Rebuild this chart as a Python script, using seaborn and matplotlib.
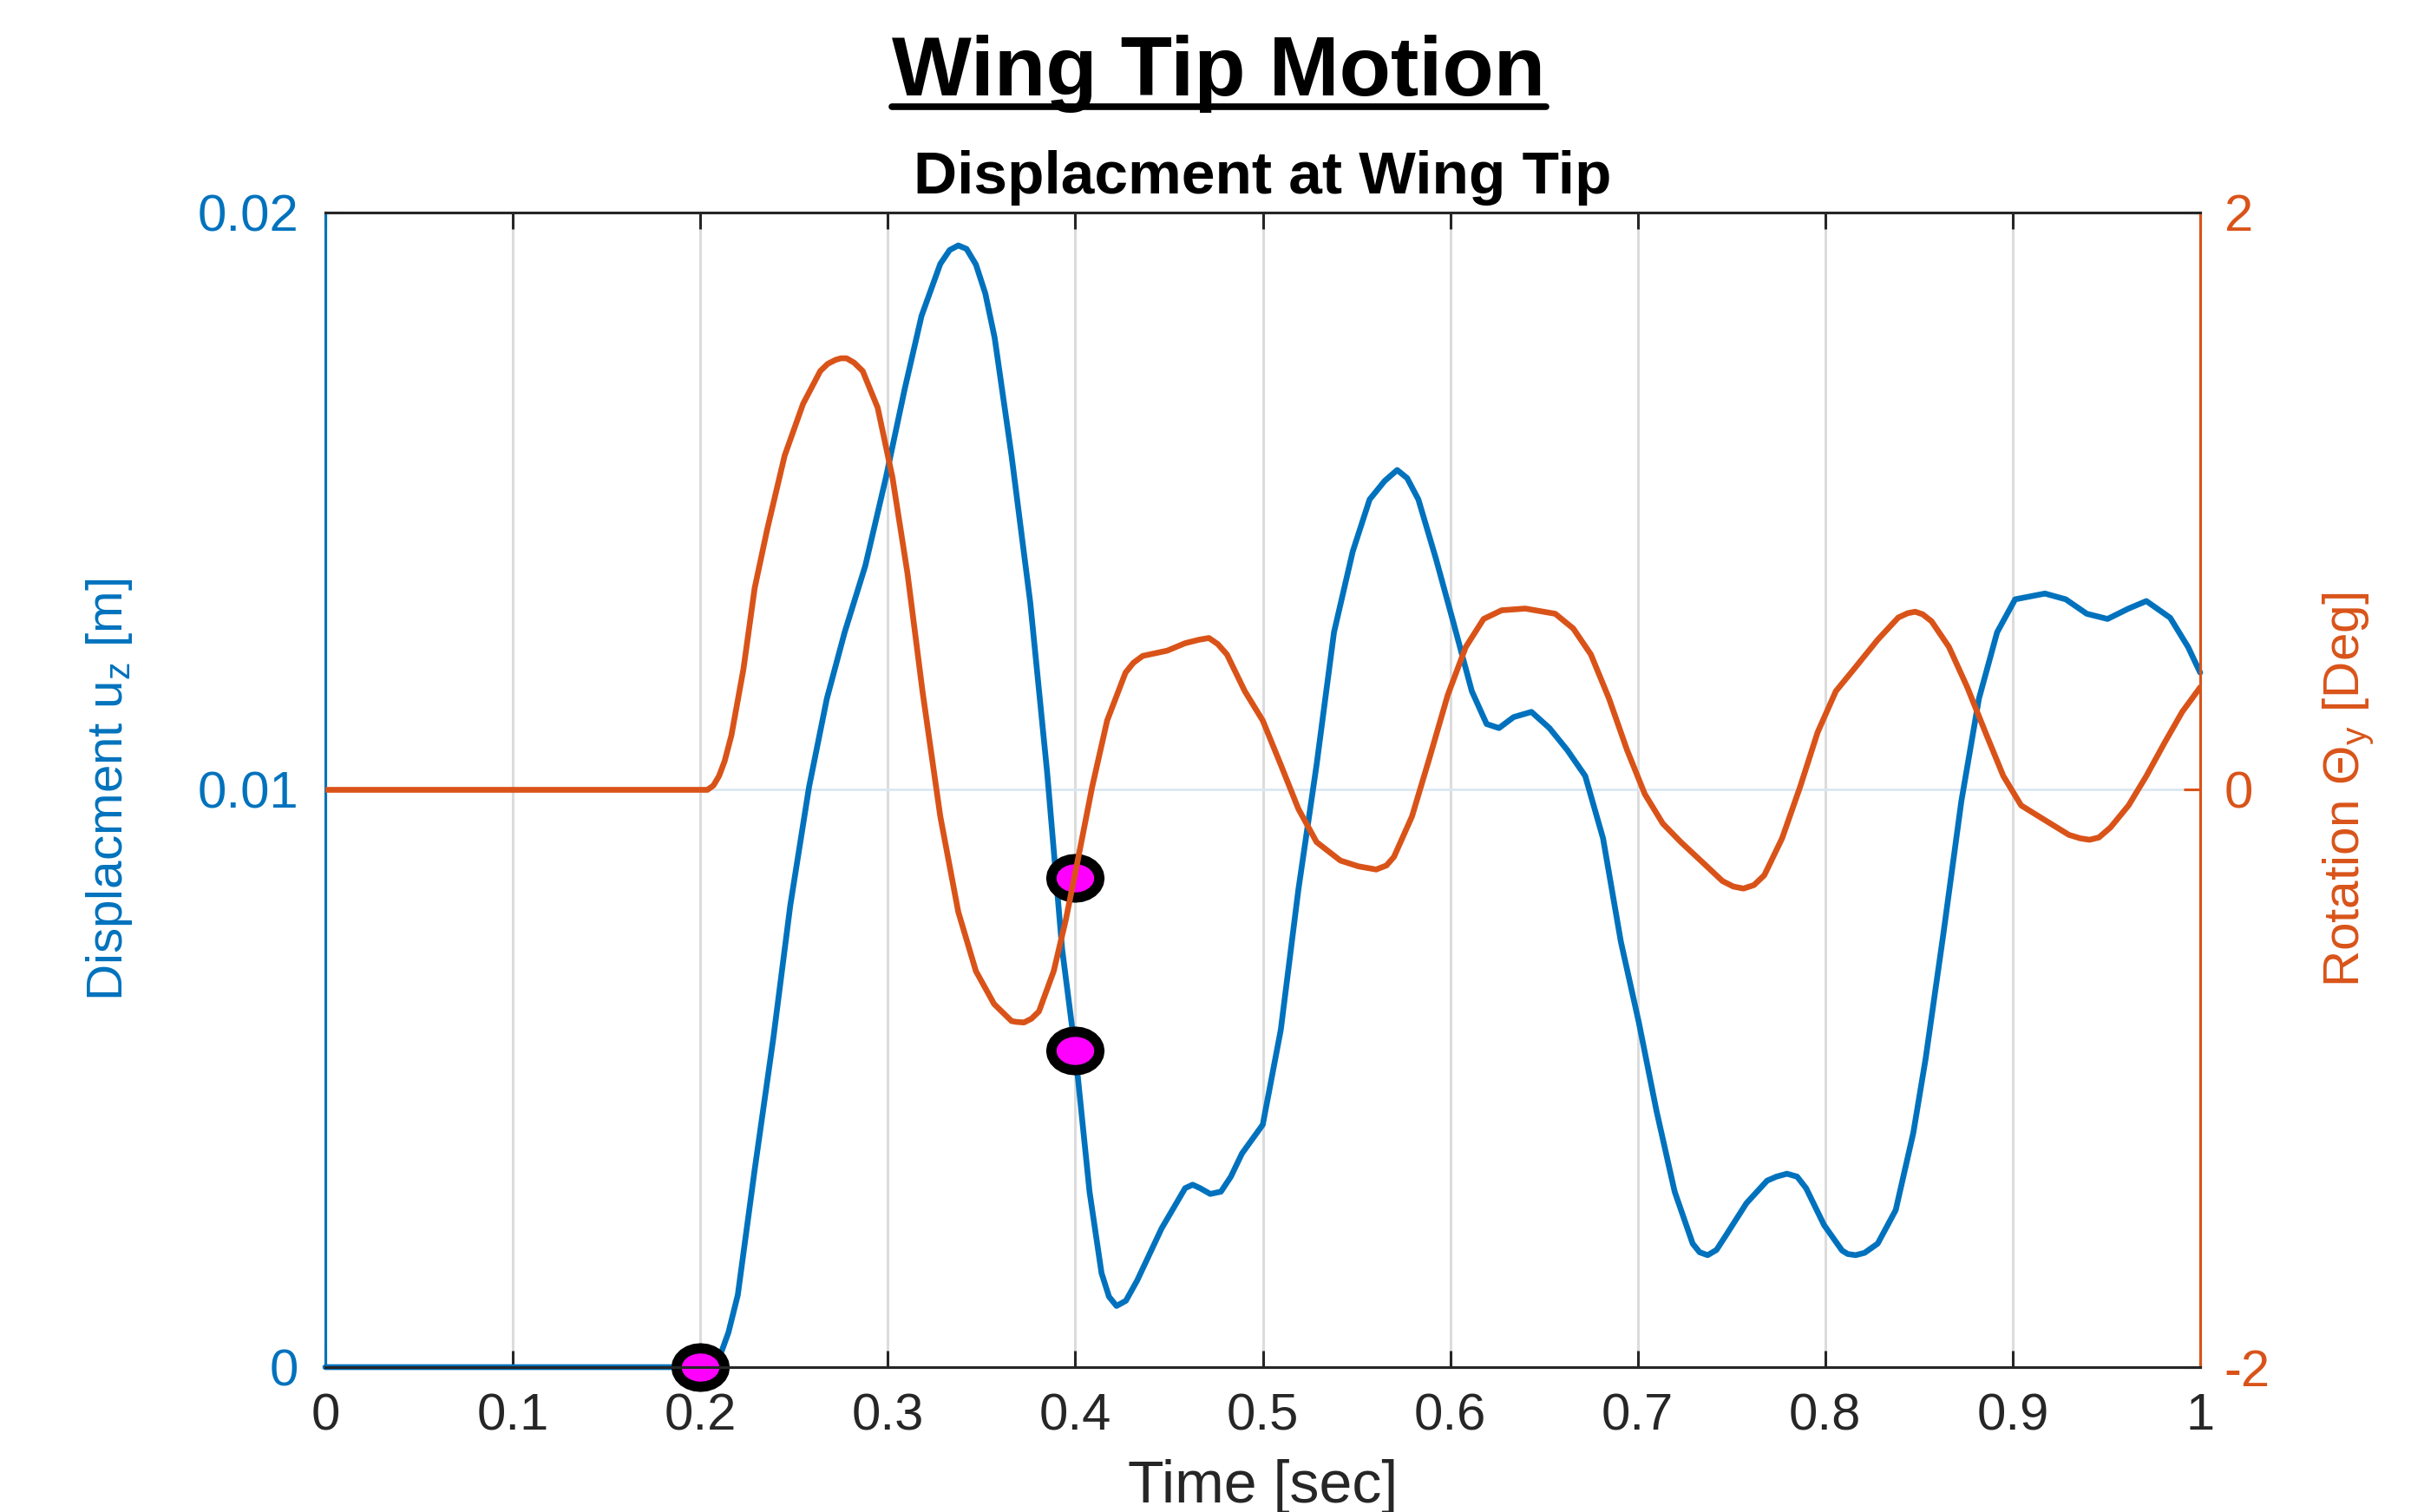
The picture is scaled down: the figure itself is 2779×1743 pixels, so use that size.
import numpy as np
import matplotlib
matplotlib.use("Agg")
import matplotlib.pyplot as plt
import seaborn as sns
from matplotlib.path import Path
from matplotlib.lines import Line2D

# ---------------- data ----------------
time_disp = [0.0, 0.1, 0.2, 0.204, 0.21, 0.215, 0.22, 0.229, 0.239, 0.248, 0.258,
             0.2675, 0.277, 0.288, 0.299, 0.309, 0.318, 0.328, 0.333, 0.3376, 0.342,
             0.347, 0.352, 0.357, 0.366, 0.376, 0.385, 0.393, 0.400, 0.4076, 0.414,
             0.418, 0.422, 0.427, 0.433, 0.446, 0.4586, 0.4626, 0.4666, 0.472,
             0.4777, 0.483, 0.4889, 0.5, 0.5096, 0.519, 0.5287, 0.538, 0.548, 0.557,
             0.565, 0.5717, 0.577, 0.583, 0.5924, 0.602, 0.6115, 0.6194, 0.626,
             0.6338, 0.6433, 0.6529, 0.6624, 0.672, 0.6815, 0.691, 0.7006, 0.710,
             0.7197, 0.7293, 0.733, 0.7373, 0.742, 0.7468, 0.758, 0.769, 0.774,
             0.7796, 0.785, 0.7898, 0.7994, 0.809, 0.812, 0.8162, 0.821, 0.828,
             0.8376, 0.847, 0.8535, 0.863, 0.8726, 0.882, 0.8917, 0.9013, 0.9172,
             0.9283, 0.9395, 0.9506, 0.9618, 0.9713, 0.984, 0.9936, 1.0]
disp_uz = [0.0, 0.0, 0.0, 0.0, 0.00015, 0.0006, 0.00125, 0.00342, 0.00571, 0.0080,
           0.01005, 0.01158, 0.01273, 0.01388, 0.01541, 0.01694, 0.01821, 0.01911,
           0.01935, 0.01943, 0.01937, 0.0191, 0.0186, 0.01783, 0.01579, 0.01324,
           0.0103, 0.00724, 0.00546, 0.00304, 0.00163, 0.00122, 0.00106, 0.00115,
           0.0015, 0.0024, 0.0031, 0.00316, 0.0031, 0.0030, 0.00304, 0.0033, 0.0037,
           0.0042, 0.00584, 0.00827, 0.01043, 0.01273, 0.01413, 0.01503, 0.01535,
           0.01554, 0.0154, 0.01503, 0.0140, 0.01286, 0.01171, 0.01114, 0.01107,
           0.01126, 0.01135, 0.01107, 0.01069, 0.01024, 0.00916, 0.00737, 0.00597,
           0.00444, 0.00304, 0.00214, 0.00199, 0.00194, 0.00203, 0.00227, 0.00284,
           0.00323, 0.0033, 0.00335, 0.0033, 0.0031, 0.00246, 0.00202, 0.00196,
           0.00194, 0.00198, 0.00214, 0.00272, 0.00406, 0.00533, 0.0075, 0.0098,
           0.01158, 0.01273, 0.0133, 0.0134, 0.0133, 0.01305, 0.01296, 0.01314,
           0.01327, 0.01298, 0.01247, 0.01203]

time_rot = [0.0, 0.1, 0.2, 0.2038, 0.207, 0.210, 0.213, 0.2166, 0.223, 0.229,
            0.2357, 0.245, 0.2548, 0.264, 0.268, 0.2723, 0.275, 0.278, 0.282,
            0.2866, 0.2946, 0.3025, 0.3105, 0.3185, 0.328, 0.3376, 0.347, 0.3567,
            0.366, 0.3685, 0.3726, 0.3766, 0.3806, 0.3885, 0.395, 0.4013, 0.409,
            0.417, 0.4268, 0.431, 0.436, 0.449, 0.4586, 0.466, 0.4713, 0.476,
            0.4809, 0.4904, 0.5, 0.5096, 0.519, 0.5287, 0.5414, 0.551, 0.5605,
            0.566, 0.570, 0.5796, 0.589, 0.5987, 0.6083, 0.6178, 0.6274, 0.640,
            0.656, 0.6656, 0.675, 0.6847, 0.6943, 0.7038, 0.7134, 0.723, 0.7357,
            0.7452, 0.751, 0.7564, 0.762, 0.7675, 0.777, 0.7866, 0.796, 0.8057,
            0.8153, 0.828, 0.839, 0.844, 0.848, 0.852, 0.8567, 0.866, 0.8758,
            0.8854, 0.895, 0.9045, 0.9172, 0.93, 0.936, 0.941, 0.946, 0.9522,
            0.9618, 0.9713, 0.981, 0.9904, 1.0]
rot_theta = [0.0, 0.0, 0.0, 0.0, 0.015, 0.048, 0.10, 0.189, 0.418, 0.699, 0.903,
             1.158, 1.337, 1.451, 1.476, 1.490, 1.495, 1.495, 1.48, 1.451, 1.324,
             1.082, 0.75, 0.342, -0.092, -0.423, -0.628, -0.742, -0.801, -0.804,
             -0.806, -0.793, -0.768, -0.628, -0.449, -0.245, 0.01, 0.24, 0.406,
             0.44, 0.464, 0.482, 0.508, 0.52, 0.526, 0.505, 0.469, 0.342, 0.24,
             0.087, -0.066, -0.181, -0.245, -0.265, -0.276, -0.262, -0.232, -0.092,
             0.112, 0.329, 0.495, 0.592, 0.622, 0.628, 0.61, 0.559, 0.469, 0.316,
             0.138, -0.015, -0.117, -0.181, -0.258, -0.316, -0.335, -0.342, -0.33,
             -0.296, -0.168, 0.01, 0.2, 0.342, 0.418, 0.52, 0.597, 0.612, 0.617,
             0.608, 0.584, 0.495, 0.355, 0.2, 0.048, -0.054, -0.105, -0.156, -0.168,
             -0.173, -0.165, -0.13, -0.054, 0.048, 0.163, 0.27, 0.355]

event_t = [0.2, 0.4]
event_disp = [0.0, 0.00548]
event_rot_t = [0.4]
event_rot = [-0.306]

x_ticks = [0, 0.1, 0.2, 0.3, 0.4, 0.5, 0.6, 0.7, 0.8, 0.9, 1.0]
x_tick_labels = ["0", "0.1", "0.2", "0.3", "0.4", "0.5", "0.6", "0.7", "0.8", "0.9", "1"]
left_ticks = [0, 0.01, 0.02]
left_tick_labels = ["0", "0.01", "0.02"]
right_ticks = [-2, 0, 2]
right_tick_labels = ["-2", "0", "2"]

# ---------------- style ----------------
BLUE = "#0072BD"
ORANGE = "#D95319"
DARK = "#262626"
sns.set_style("white")
plt.rcParams["font.family"] = ["Liberation Sans", "DejaVu Sans"]
plt.rcParams["mathtext.fontset"] = "custom"
plt.rcParams["mathtext.rm"] = "Liberation Sans"
plt.rcParams["mathtext.it"] = "Liberation Sans:italic"
plt.rcParams["mathtext.bf"] = "Liberation Sans:bold"

TICK_FS = 43
XLABEL_FS = 49
YLABEL_FS = 42
LW = 4.8

fig = plt.figure(figsize=(27.79, 17.43), dpi=100)
ax = fig.add_axes([0.13494, 0.09581, 0.77762, 0.76363])
ax2 = ax.twinx()
ax2.patch.set_visible(False)

# grid
ax.set_axisbelow(True)
ax.grid(axis="x", color="#dcdcdc", linewidth=2.2)
ax.grid(axis="y", color="#dbe7f2", linewidth=2.0)

# lines
sns.lineplot(x=time_disp, y=disp_uz, ax=ax, color=BLUE, linewidth=LW,
             zorder=3, clip_on=False, solid_joinstyle="round",
             solid_capstyle="round")
sns.lineplot(x=time_rot, y=rot_theta, ax=ax2, color=ORANGE, linewidth=LW,
             zorder=3, solid_joinstyle="round", solid_capstyle="round")

# elliptical event markers
th = np.linspace(0, 2 * np.pi, 25)
ell = Path(np.column_stack([np.cos(th), 0.8 * np.sin(th)]), closed=True)
ax.plot(event_t, event_disp, ls="none", marker=ell, ms=40, mfc="#FF00FF",
        mec="black", mew=8.5, zorder=4, clip_on=False)
ax2.plot(event_rot_t, event_rot, ls="none", marker=ell, ms=40, mfc="#FF00FF",
         mec="black", mew=8.5, zorder=2, clip_on=False)

# limits & ticks
ax.set_xlim(0, 1)
ax.set_ylim(0, 0.02)
ax2.set_ylim(-2, 2)
ax.set_xticks(x_ticks)
ax.set_xticklabels(x_tick_labels)
ax.set_yticks(left_ticks)
ax.set_yticklabels(left_tick_labels)
ax2.set_yticks(right_ticks)
ax2.set_yticklabels(right_tick_labels)

ax.tick_params(axis="x", direction="in", length=14, width=2.2, color=DARK,
               labelcolor=DARK, labelsize=TICK_FS, pad=21, top=True, bottom=True)
ax.tick_params(axis="y", direction="in", length=14, width=2.2, color=BLUE,
               labelcolor=BLUE, labelsize=TICK_FS, pad=22, left=True, right=False)
ax2.tick_params(axis="y", direction="in", length=14, width=2.2, color=ORANGE,
                labelcolor=ORANGE, labelsize=TICK_FS, pad=20, right=True, left=False)
ax2.tick_params(axis="x", top=False, bottom=False)

for a in (ax, ax2):
    for s in a.spines.values():
        s.set_linewidth(2.2)
        s.set_visible(True)
    a.spines["top"].set_color(DARK)
    a.spines["bottom"].set_color(DARK)
ax.spines["left"].set_color(BLUE)
ax2.spines["left"].set_color(BLUE)
ax.spines["right"].set_color(ORANGE)
ax2.spines["right"].set_color(ORANGE)

# labels
ax.set_xlabel("Time [sec]", fontsize=XLABEL_FS, color=DARK, labelpad=16)
ax.set_ylabel(r"Displacment u$_\mathregular{z}$ [m]", fontsize=YLABEL_FS,
              color=BLUE, labelpad=52)
ax2.set_ylabel(r"Rotation Θ$_\mathregular{y}$ [Deg]", fontsize=YLABEL_FS,
               color=ORANGE, labelpad=42, rotation=90)
ax.set_title("Displacment at Wing Tip", fontsize=50, fontweight="bold",
             color="black", pad=16)

# main title with underline
title = fig.text(0.5056, 0.9369, "Wing Tip Motion", ha="center", va="baseline",
                 fontsize=70, fontweight="bold", color="black")
fig.canvas.draw()
bb = title.get_window_extent()
uy = (bb.y0 + 7) / fig.bbox.height
fig.add_artist(Line2D([bb.x0 / fig.bbox.width, bb.x1 / fig.bbox.width], [uy, uy],
                      transform=fig.transFigure, color="black", linewidth=5.5))

fig.savefig("out.png", dpi=100)
